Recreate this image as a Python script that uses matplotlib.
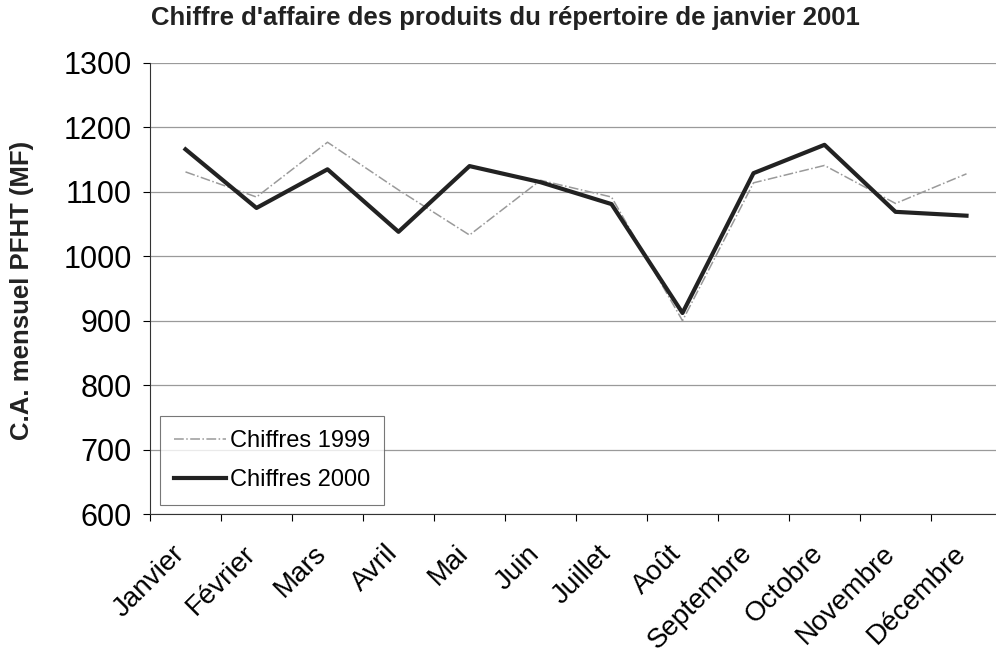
import numpy as np
import matplotlib.pyplot as plt
from matplotlib.transforms import ScaledTranslation

plt.rcParams['font.family'] = ['Liberation Sans', 'DejaVu Sans']

mois = ["Janvier", "Février", "Mars", "Avril", "Mai", "Juin", "Juillet",
        "Août", "Septembre", "Octobre", "Novembre", "Décembre"]
chiffres_1999 = [1131, 1092, 1177, 1103, 1033, 1118, 1092, 900, 1114, 1141, 1082, 1128]
chiffres_2000 = [1166, 1075, 1135, 1038, 1140, 1115, 1081, 912, 1129, 1173, 1069, 1063]

fig = plt.figure(figsize=(9.96, 6.59), dpi=100)
ax = fig.add_axes([150 / 996, 1 - 514 / 659, 852 / 996, 451 / 659])

x = np.arange(len(mois))
ax.plot(x, chiffres_1999, color='#9a9a9a', lw=1.1, ls='-.', label='Chiffres 1999')
ax.plot(x, chiffres_2000, color='#222222', lw=3, label='Chiffres 2000')

ax.set_xlim(-0.5, 11.5)
ax.set_ylim(600, 1300)
ax.set_yticks(range(600, 1301, 100))
ax.yaxis.grid(True, color='#9a9a9a', lw=0.9)
ax.set_axisbelow(True)

ax.set_xticks(x)
ax.set_xticklabels(mois, rotation=45, ha='right', rotation_mode='anchor', fontsize=20)
ax.set_xticks(np.arange(-0.5, 12, 1), minor=True)
ax.tick_params(axis='x', which='major', length=0, pad=19)
ax.tick_params(axis='x', which='minor', length=5, width=0.8, direction='out')
ax.tick_params(axis='y', labelsize=22, length=5, width=0.8, pad=8)
shift = ScaledTranslation(-14 / 100, 0, fig.dpi_scale_trans)
for lab in ax.get_xticklabels():
    lab.set_transform(lab.get_transform() + shift)

for s in ['top', 'right']:
    ax.spines[s].set_visible(False)
ax.spines['left'].set_color('#333333')
ax.spines['bottom'].set_color('#333333')

leg = ax.legend(loc='lower left', bbox_to_anchor=(10 / 852, 9 / 451), fontsize=17,
                frameon=True, fancybox=False, handlelength=2.2, handletextpad=0.15,
                borderpad=0.6, labelspacing=0.7, borderaxespad=0)
leg.get_frame().set_edgecolor('#555555')
leg.get_frame().set_linewidth(0.8)

fig.text(505 / 996, 1 - 18 / 659, "Chiffre d'affaire des produits du répertoire de janvier 2001",
         ha='center', va='center', fontsize=18.5, fontweight='bold', color='#222222')
fig.text(22 / 996, 1 - 290 / 659, "C.A. mensuel PFHT (MF)", rotation=90,
         ha='center', va='center', fontsize=18.5, fontweight='bold', color='#222222')

fig.savefig('out.png', dpi=100)
